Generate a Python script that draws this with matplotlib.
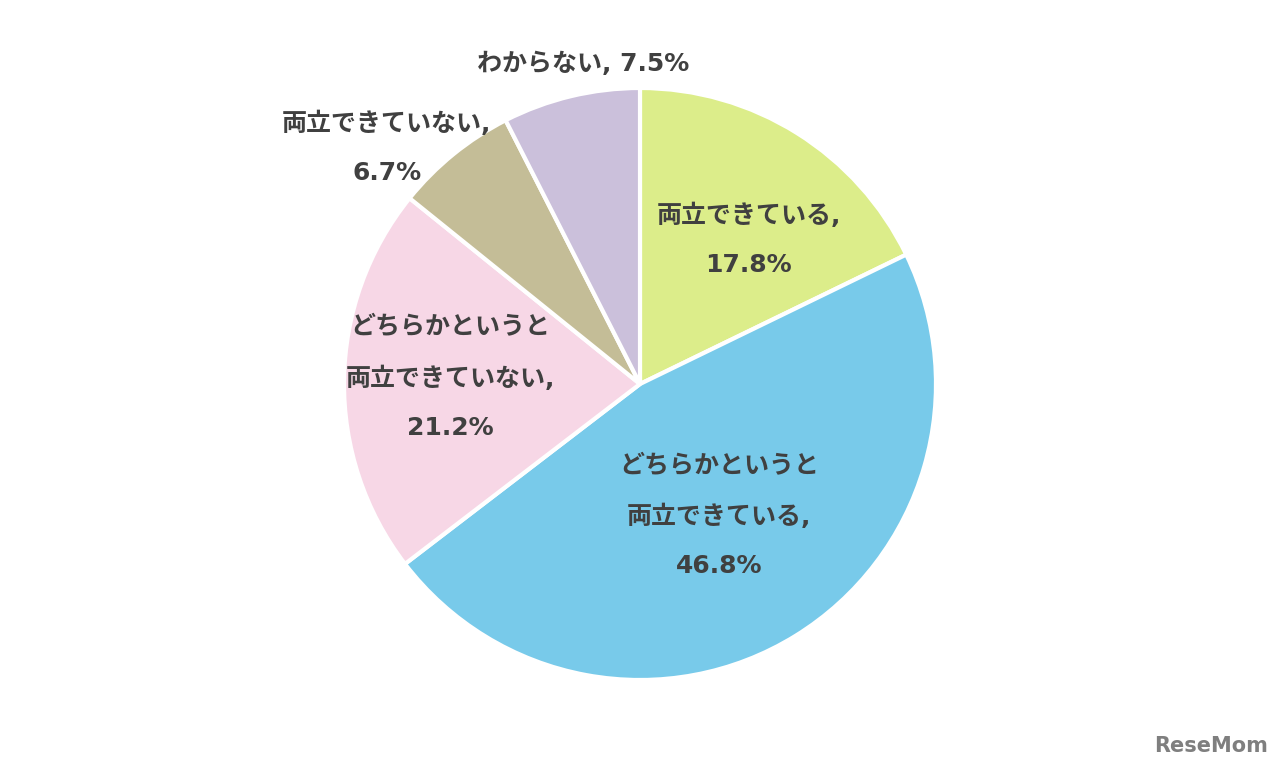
import numpy as np
import matplotlib.pyplot as plt

plt.rcParams['font.family'] = ['DejaVu Sans', 'Noto Sans CJK JP']

labels = ['両立できている', 'どちらかというと\n両立できている', 'どちらかというと\n両立できていない',
          '両立できていない', 'わからない']
values = [17.8, 46.8, 21.2, 6.7, 7.5]
colors = ['#DCED8A', '#78CAEA', '#F7D7E6', '#C4BD97', '#CBC0DB']
# (angle in degrees, distance as a fraction of the radius, separator)
label_pos = [(53, 0.61, ',\n'), (-59, 0.52, ',\n'), (178, 0.64, ',\n'), (137, 1.17, ',\n'), (100, 1.1, ', ')]

fig = plt.figure(figsize=(12.8, 7.68), dpi=100)
ax = fig.add_axes([0, 0, 1, 1])

cx, cy, r = 640, 384, 296
ax.pie(values, colors=colors, startangle=90, counterclock=False,
       center=(cx, cy), radius=r, frame=True,
       wedgeprops=dict(edgecolor='white', linewidth=3))
ax.set_xlim(0, 1280)
ax.set_ylim(0, 768)
ax.set_aspect('equal')
ax.axis('off')

for lab, val, (ang, dist, sep) in zip(labels, values, label_pos):
    a = np.deg2rad(ang)
    x = cx + dist * r * np.cos(a)
    y = cy + dist * r * np.sin(a)
    ax.text(x, y, f'{lab}{sep}{val}%', ha='center', va='center', fontsize=18,
            fontweight='bold', color='#404040', linespacing=2.3)

ax.text(1268, 22, 'ReseMom', ha='right', va='center', fontsize=15,
        fontweight='bold', color='#7f7f7f')

fig.savefig('out.png', dpi=100)
